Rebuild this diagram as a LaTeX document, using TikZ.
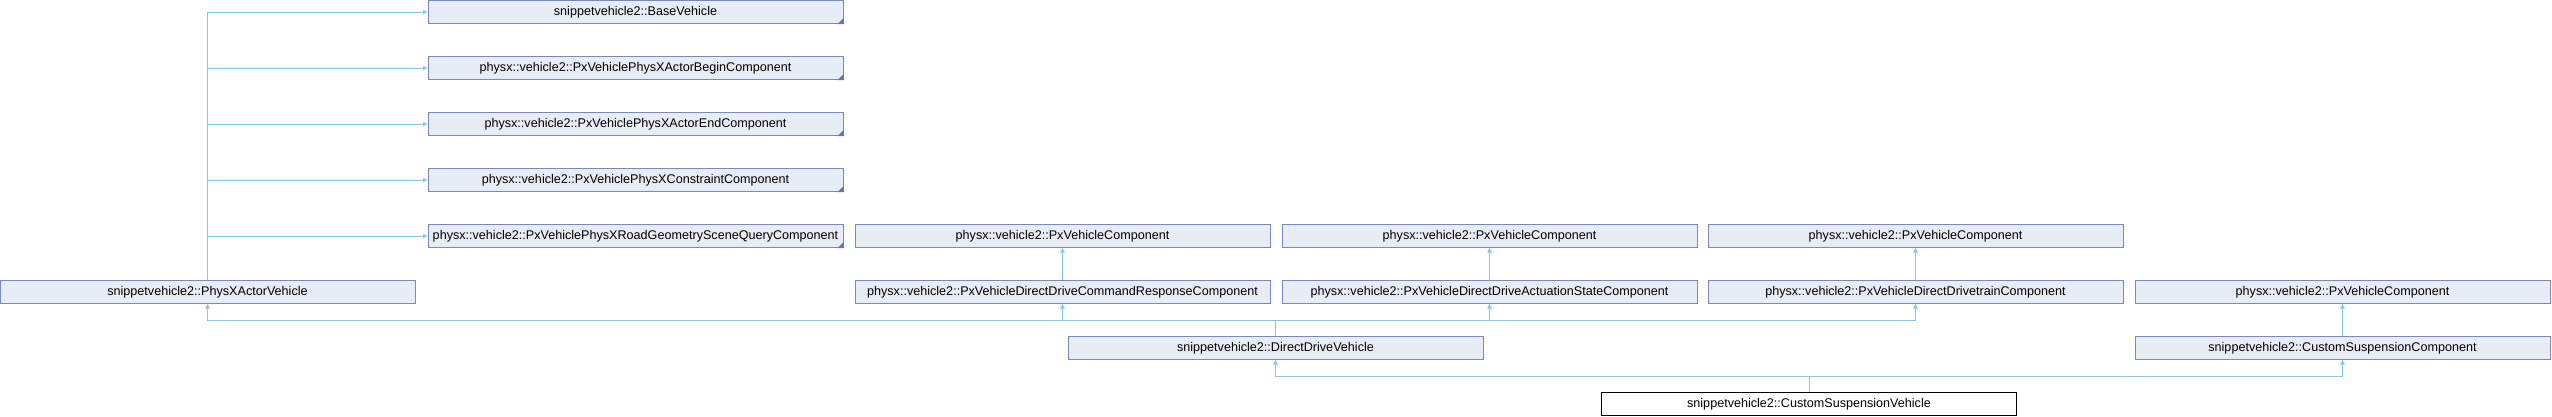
\documentclass[tikz,border=0pt]{standalone}
\usepackage{fontspec}
\setmainfont{Liberation Sans}
\usetikzlibrary{arrows.meta}
\definecolor{boxfill}{RGB}{232,236,245}
\definecolor{boxedge}{RGB}{118,138,200}
\definecolor{inhline}{RGB}{135,198,232}
\tikzset{
  cls/.style={draw=boxedge,fill=boxfill,line width=1pt,minimum width=415pt,minimum height=23pt,inner sep=0pt,font=\fontsize{12.6}{14}\selectfont},
  cur/.style={cls,draw=black,fill=white},
  inh/.style={draw=inhline,line width=1pt,-{Triangle[length=4.5pt,width=4.5pt]}},
  trunc/.style={fill=boxedge!85!black}
}
\begin{document}
\begin{tikzpicture}[x=1pt,y=-1pt]
\useasboundingbox (0,0) rectangle (2552,416);

\node[cls] (base) at (635.5,12) {snippetvehicle2::BaseVehicle};%
\node[cls] (actBegin) at (635.5,68) {physx::vehicle2::PxVehiclePhysXActorBeginComponent};%
\node[cls] (actEnd) at (635.5,124) {physx::vehicle2::PxVehiclePhysXActorEndComponent};%
\node[cls] (constr) at (635.5,180) {physx::vehicle2::PxVehiclePhysXConstraintComponent};%
\node[cls] (roadGeom) at (635.5,236) {physx::vehicle2::PxVehiclePhysXRoadGeometrySceneQueryComponent};%
\node[cls] (physxActor) at (207.5,292) {snippetvehicle2::PhysXActorVehicle};%

\node[cls] (comp1) at (1062.5,236) {physx::vehicle2::PxVehicleComponent};%
\node[cls] (comp2) at (1489.5,236) {physx::vehicle2::PxVehicleComponent};%
\node[cls] (comp3) at (1915.5,236) {physx::vehicle2::PxVehicleComponent};%
\node[cls] (cmdResp) at (1062.5,292) {physx::vehicle2::PxVehicleDirectDriveCommandResponseComponent};%
\node[cls] (actState) at (1489.5,292) {physx::vehicle2::PxVehicleDirectDriveActuationStateComponent};%
\node[cls] (drivetrain) at (1915.5,292) {physx::vehicle2::PxVehicleDirectDrivetrainComponent};%
\node[cls] (comp4) at (2342.5,292) {physx::vehicle2::PxVehicleComponent};%

\node[cls] (ddv) at (1275.5,348) {snippetvehicle2::DirectDriveVehicle};%
\node[cls] (suspComp) at (2342.5,348) {snippetvehicle2::CustomSuspensionComponent};%
\node[cur] (suspVeh) at (1809,404) {snippetvehicle2::CustomSuspensionVehicle};%

% truncated bases
\fill[trunc] (base.south east) -- ++(-6,0) -- ++(6,-6) -- cycle;
\fill[trunc] (actBegin.south east) -- ++(-6,0) -- ++(6,-6) -- cycle;
\fill[trunc] (actEnd.south east) -- ++(-6,0) -- ++(6,-6) -- cycle;
\fill[trunc] (constr.south east) -- ++(-6,0) -- ++(6,-6) -- cycle;
\fill[trunc] (roadGeom.south east) -- ++(-6,0) -- ++(6,-6) -- cycle;

\coordinate (ddvBus) at (1275.5,320.5);
\coordinate (vehBus) at (1809,376.5);

\draw[inh] (physxActor.north) |- (base.west);
\draw[inh] (physxActor.north) |- (actBegin.west);
\draw[inh] (physxActor.north) |- (actEnd.west);
\draw[inh] (physxActor.north) |- (constr.west);
\draw[inh] (physxActor.north) |- (roadGeom.west);

\draw[inh] (cmdResp.north) -- (comp1.south);
\draw[inh] (actState.north) -- (comp2.south);
\draw[inh] (drivetrain.north) -- (comp3.south);
\draw[inh] (suspComp.north) -- (comp4.south);

\draw[inh] (ddv.north) -- (ddvBus) -| (physxActor.south);
\draw[inh] (ddv.north) -- (ddvBus) -| (cmdResp.south);
\draw[inh] (ddv.north) -- (ddvBus) -| (actState.south);
\draw[inh] (ddv.north) -- (ddvBus) -| (drivetrain.south);

\draw[inh] (suspVeh.north) -- (vehBus) -| (ddv.south);
\draw[inh] (suspVeh.north) -- (vehBus) -| (suspComp.south);

\end{tikzpicture}
\end{document}
